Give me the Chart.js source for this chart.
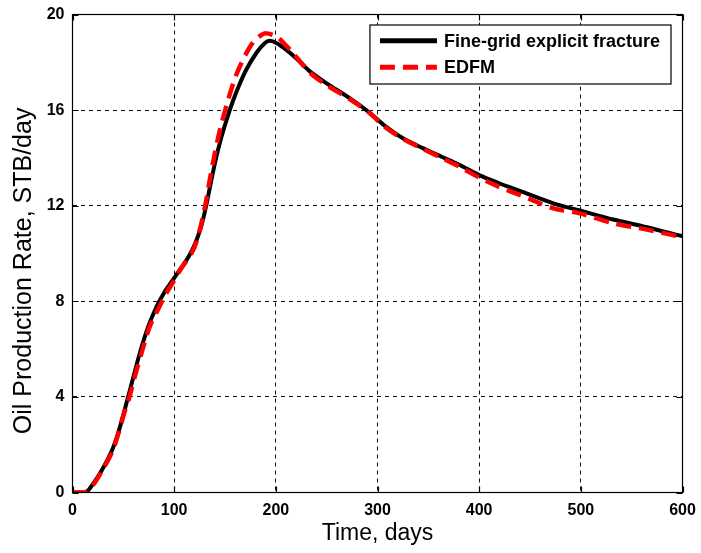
<!DOCTYPE html>
<html><head><meta charset="utf-8">
<script src="https://cdn.jsdelivr.net/npm/chart.js@4.4.1/dist/chart.umd.min.js"></script>
<style>html,body{margin:0;padding:0;background:#fff;overflow:hidden}canvas{display:block}</style>
</head><body>
<canvas id="c" width="701" height="553" style="width:701px;height:553px"></canvas>
<script>
const xTicks = [0, 100, 200, 300, 400, 500, 600];
const yTicks = [0, 4, 8, 12, 16, 20];
const seriesLabels = ['Fine-grid explicit fracture', 'EDFM'];
const xTitle = 'Time, days';
const yTitle = 'Oil Production Rate, STB/day     ';

const fineDays = [0,13,20,29,39,45,50,55,60,67,75,83,90,98,106,114,120,126,131,136,141,146,152,158,164,171,181,189,194,201,211,220,234,250,273,293,307,325,345,363,381,399,419,440,473,499,532,565,600];
const fineRate = [0,0,0.35,0.94,1.78,2.5,3.25,4.05,4.85,5.95,7.0,7.8,8.35,8.85,9.35,9.85,10.35,11.05,11.9,12.95,13.95,14.8,15.65,16.4,17.05,17.7,18.4,18.8,18.9,18.8,18.5,18.17,17.6,17.12,16.49,15.87,15.35,14.82,14.4,14.05,13.7,13.3,12.95,12.62,12.1,11.8,11.42,11.1,10.72];

const edfmDays = [0,12,20,29,39,45,50,56,61,68,76,84,91,99,107,117,122,127,131,135,140,145,153,161,170,178,186,191,201,210,217,234,250,273,293,307,325,345,363,381,399,419,440,473,499,532,565,600];
const edfmRate = [0,0,0.3,0.9,1.7,2.45,3.2,4.0,4.8,5.85,6.95,7.65,8.25,8.8,9.38,10.0,10.5,11.3,12.1,13.08,14.19,15.17,16.42,17.47,18.3,18.86,19.15,19.21,19.07,18.7,18.38,17.55,17.05,16.45,15.85,15.3,14.8,14.37,14.0,13.62,13.2,12.8,12.45,11.89,11.68,11.26,11.0,10.68];

const toPts = (xs, ys) => xs.map((x, i) => ({x: x, y: ys[i]}));
const FONT = '"Liberation Sans", Arial, Helvetica, sans-serif';

const framePlugin = {
  id: 'frame',
  afterDraw(chart) {
    const ctx = chart.ctx, a = chart.chartArea;
    const xs = chart.scales.x, ys = chart.scales.y;
    ctx.save();
    ctx.strokeStyle = '#000';
    ctx.lineWidth = 1.2;
    ctx.setLineDash([]);
    ctx.strokeRect(a.left, a.top, a.right - a.left, a.bottom - a.top);
    const tl = 6;
    ctx.beginPath();
    xTicks.forEach(v => {
      const p = Math.round(xs.getPixelForValue(v)) + 0.5;
      ctx.moveTo(p, a.bottom); ctx.lineTo(p, a.bottom - tl);
      ctx.moveTo(p, a.top); ctx.lineTo(p, a.top + tl);
    });
    yTicks.forEach(v => {
      const p = Math.round(ys.getPixelForValue(v)) + 0.5;
      ctx.moveTo(a.left, p); ctx.lineTo(a.left + tl, p);
      ctx.moveTo(a.right, p); ctx.lineTo(a.right - tl, p);
    });
    ctx.stroke();

    // legend box
    ctx.font = 'bold 18px ' + FONT;
    const maxW = Math.max(...chart.data.datasets.map(d => ctx.measureText(d.label).width));
    const padL = 10, sample = 57, gap = 7, padR = 11;
    const bw = padL + sample + gap + maxW + padR, bh = 59;
    const bx = a.right - 11.5 - bw, by = a.top + 10.5;
    ctx.fillStyle = '#fff';
    ctx.fillRect(bx, by, bw, bh);
    ctx.lineWidth = 1.2;
    ctx.strokeStyle = '#000';
    ctx.strokeRect(bx, by, bw, bh);
    const rows = [15.7, 42.3];
    chart.data.datasets.forEach((d, i) => {
      const y = by + rows[i];
      ctx.beginPath();
      ctx.strokeStyle = d.borderColor;
      ctx.lineWidth = 5;
      ctx.lineCap = 'butt';
      ctx.setLineDash(d.borderDash || []);
      ctx.moveTo(bx + padL, y); ctx.lineTo(bx + padL + sample, y);
      ctx.stroke();
      ctx.setLineDash([]);
      ctx.fillStyle = '#000';
      ctx.textBaseline = 'middle';
      ctx.textAlign = 'left';
      ctx.fillText(d.label, bx + padL + sample + gap, y + 1);
    });
    ctx.restore();
  }
};

new Chart(document.getElementById('c'), {
  type: 'line',
  data: {
    datasets: [
      { label: seriesLabels[0], data: toPts(fineDays, fineRate), borderColor: '#000000', borderWidth: 4, pointRadius: 0, tension: 0.3, order: 2, fill: false },
      { label: seriesLabels[1], data: toPts(edfmDays, edfmRate), borderColor: '#ff0000', borderWidth: 4.5, borderDash: [15, 8], pointRadius: 0, tension: 0.3, order: 1, fill: false }
    ]
  },
  options: {
    responsive: false,
    devicePixelRatio: 1,
    animation: false,
    events: [],
    layout: { padding: { left: 0, right: 18.5, top: 14.5, bottom: 0 } },
    plugins: { legend: { display: false }, tooltip: { enabled: false } },
    scales: {
      x: {
        type: 'linear', min: 0, max: 600,
        afterBuildTicks: s => { s.ticks = xTicks.map(v => ({value: v})); },
        afterFit: s => { s.height = 60.5; s.paddingLeft = 0; s.paddingRight = 0; },
        grid: { color: '#111', lineWidth: 1, drawTicks: false },
        border: { display: false, dash: [4, 4] },
        ticks: { color: '#000', padding: 8, maxRotation: 0, font: { family: FONT, size: 16, weight: 'bold' } },
        title: { display: true, text: xTitle, color: '#000', font: { family: FONT, size: 23 }, padding: { top: 0, bottom: 6 } }
      },
      y: {
        type: 'linear', min: 0, max: 20,
        afterBuildTicks: s => { s.ticks = yTicks.map(v => ({value: v})); },
        afterFit: s => { s.width = 72.5; s.paddingTop = 0; s.paddingBottom = 0; },
        grid: { color: '#111', lineWidth: 1, drawTicks: false },
        border: { display: false, dash: [4, 4] },
        ticks: { color: '#000', padding: 8, font: { family: FONT, size: 16, weight: 'bold' } },
        title: { display: true, text: yTitle, color: '#000', font: { family: FONT, size: 25 }, padding: { top: 9, bottom: 0 } }
      }
    }
  },
  plugins: [framePlugin]
});
</script>
</body></html>
